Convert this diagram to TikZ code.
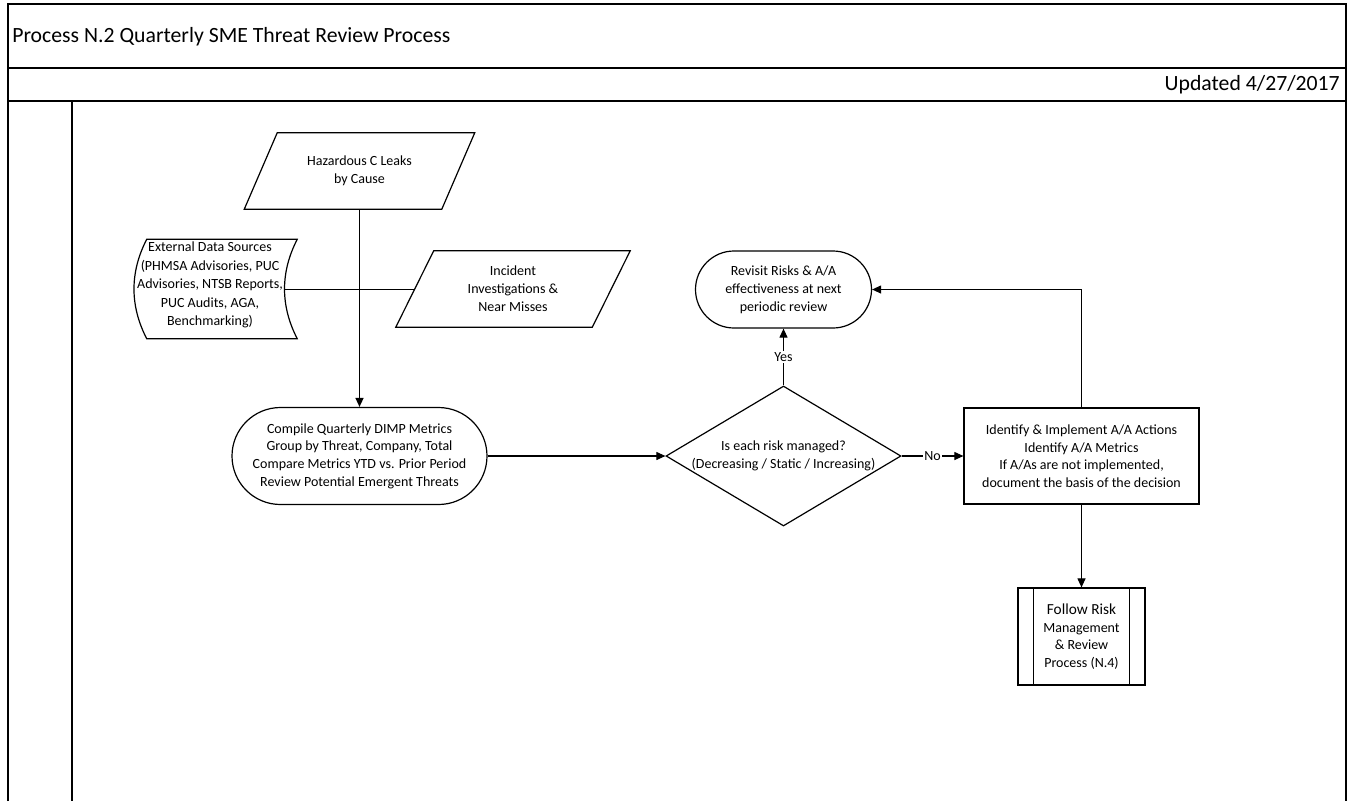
\documentclass[tikz,border=0pt]{standalone}
\usepackage{fontspec}
\setmainfont{Carlito}
\usetikzlibrary{arrows.meta,shapes.geometric,shapes.misc,calc}
\begin{document}
\begin{tikzpicture}[x=0.75pt,y=-0.75pt,
  frame/.style={line width=1.3pt,draw=black},
  shp/.style={line width=0.9pt,draw=black},
  txt/.style={align=center,font=\fontsize{10.5}{13.2}\selectfont,inner sep=0pt},
  box/.style={rectangle,inner sep=0pt},
  term/.style={rounded rectangle,shp,inner sep=0pt,align=center,font=\fontsize{10.5}{13.2}\selectfont},
  conn/.style={line width=0.8pt},
  thinconn/.style={line width=0.6pt},
  arr/.style={conn,-{Triangle[length=6.75pt,width=6pt]}},
  lbl/.style={fill=white,inner sep=1pt,font=\fontsize{10.5}{13.2}\selectfont}]
\useasboundingbox (0,0) rectangle (1353,801);
% frame
\coordinate (ftl) at (8,4);
\coordinate (ftr) at (1346,4);
\coordinate (fbl) at (8,801);
\coordinate (fbr) at (1346,801);
\draw[frame] (fbl) -- (ftl) -- (ftr) -- (fbr);
\draw[frame] (8,68) -- (1346,68);
\draw[frame] (8,101) -- (1346,101);
\draw[frame] (72,101) -- (72,801);
\node[anchor=west,inner sep=0pt,font=\fontsize{16.3}{19}\selectfont] (title) at (12,37) {Process N.2 Quarterly SME Threat Review Process};
\node[anchor=east,inner sep=0pt,font=\fontsize{16.3}{19}\selectfont] (upd) at (1340,85) {Updated 4/27/2017};
% Hazardous parallelogram
\node[box,minimum width=172.5pt,minimum height=57pt] (haz) at (359.5,171) {};
\draw[shp] ($(haz.north west)+(33,0)$) -- (haz.north east) -- ($(haz.south east)+(-33,0)$) -- (haz.south west) -- cycle;
\node[txt] at (haz) {Hazardous C Leaks\\by Cause};
% External data sources (stored data)
\node[box,minimum width=121.5pt,minimum height=74.25pt] (ext) at (216,289) {};
\draw[shp] ($(ext.north west)+(12,0)$) -- (ext.north east)
  .. controls ($(ext.north east)+(-17,33)$) and ($(ext.south east)+(-17,-33)$) .. (ext.south east)
  -- ($(ext.south west)+(12,0)$)
  .. controls ($(ext.south west)+(-5,-33)$) and ($(ext.north west)+(-5,33)$) .. ($(ext.north west)+(12,0)$) -- cycle;
\coordinate (extE) at ($(ext.east)+(-12.75,0)$);
\node[txt,font=\fontsize{10.5}{13.9}\selectfont] at ($(ext.center)+(-6,-4)$) {External Data Sources\\(PHMSA Advisories, PUC\\Advisories, NTSB Reports,\\PUC Audits, AGA,\\Benchmarking)};
% Incident parallelogram
\node[box,minimum width=175.5pt,minimum height=57pt] (inc) at (513,289) {};
\draw[shp] ($(inc.north west)+(38,0)$) -- (inc.north east) -- ($(inc.south east)+(-38,0)$) -- (inc.south west) -- cycle;
\coordinate (incW) at ($(inc.west)+(19,0)$);
\node[txt,font=\fontsize{10.5}{13.6}\selectfont] at (inc) {Incident\\Investigations \&\\Near Misses};
% Compile terminal
\node[term,minimum width=191.25pt,minimum height=72.75pt] (comp) at (359.5,456) {Compile Quarterly DIMP Metrics\\Group by Threat, Company, Total\\Compare Metrics YTD vs. Prior Period\\Review Potential Emergent Threats};
% Decision
\node[diamond,shp,inner sep=0pt,minimum width=176.25pt,minimum height=105pt] (dec) at (783.5,456) {};
\node[txt] at (dec) {Is each risk managed?\\(Decreasing / Static / Increasing)};
% Revisit terminal
\node[term,minimum width=132pt,minimum height=57.75pt,font=\fontsize{10.5}{13.6}\selectfont] (rev) at (783.5,289.5) {Revisit Risks \& A/A\\effectiveness at next\\periodic review};
% Identify box
\node[rectangle,shp,txt,minimum width=176.25pt,minimum height=72pt] (idn) at (1081.5,456) {Identify \& Implement A/A Actions\\Identify A/A Metrics\\If A/As are not implemented,\\document the basis of the decision};
% Follow predefined process
\node[rectangle,shp,txt,minimum width=95.25pt,minimum height=72.75pt] (fol) at (1081.5,636.5) {{\fontsize{11.5}{13.2}\selectfont Follow Risk}\\Management\\\& Review\\Process (N.4)};
\draw[shp] ($(fol.north west)+(16,0)$) -- ($(fol.south west)+(16,0)$);
\draw[shp] ($(fol.north east)+(-16,0)$) -- ($(fol.south east)+(-16,0)$);
% connectors
\coordinate (junc) at (haz.south |- incW);
\draw[thinconn] (extE) -- (incW);
\draw[thinconn] (haz.south) -- (junc);
\draw[arr,line width=1.1pt] (junc) -- (haz.south |- comp.north);
\draw[arr] (comp.east) -- (dec.west);
\draw[arr] (dec.north) -- node[lbl] {Yes} (rev.south);
\draw[arr] (dec.east) -- node[lbl] {No} (idn.west);
\draw[arr] (idn.north) |- (rev.east);
\draw[arr] (idn.south) -- (fol.north);
\end{tikzpicture}
\end{document}
